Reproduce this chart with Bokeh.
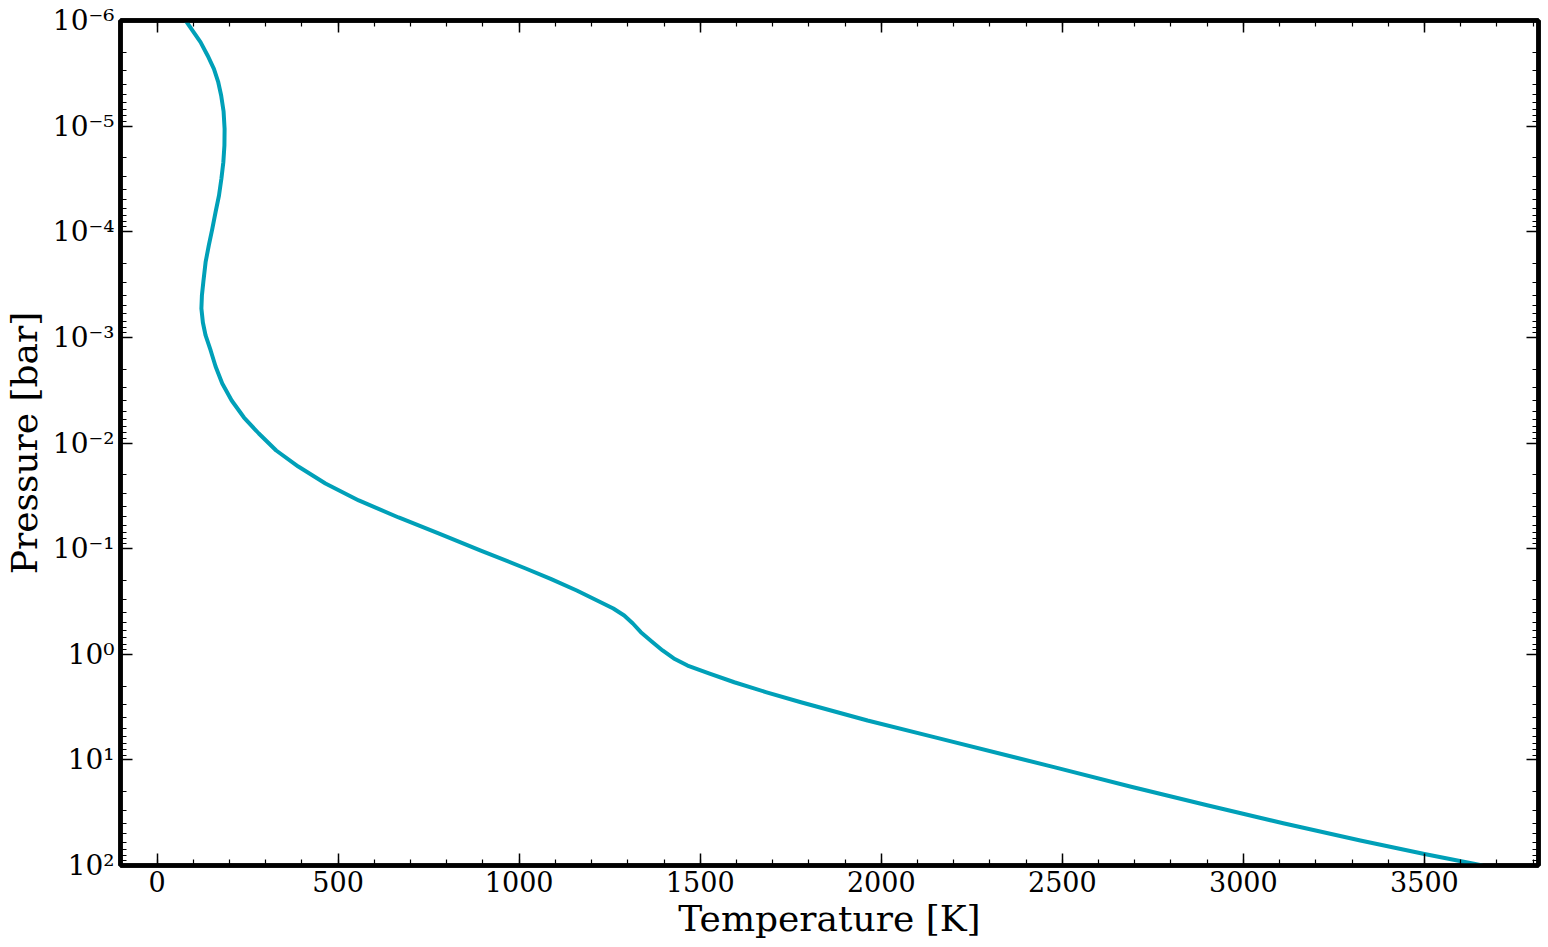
from bokeh.plotting import figure
from bokeh.models import Range1d, FixedTicker, LinearAxis, LogAxis, CustomJSTickFormatter
from bokeh.embed import file_html
from bokeh.resources import INLINE

# Temperature-pressure profile
temperature_K = [79, 98, 120, 139.5, 157, 168.5, 177, 183.7, 186.5, 186, 183,
                 177.7, 171, 161.6, 152.5, 142.8, 134, 127.9, 123.8, 122.4,
                 126.5, 134, 148, 161.6, 180, 206, 240, 281, 329, 390,
                 465, 557, 667, 779, 894, 1018, 1087, 1159, 1225, 1260,
                 1290, 1314, 1336, 1366, 1396, 1427, 1465, 1524, 1594, 1681,
                 1778, 1962, 2146, 2477, 2690, 2900, 3110, 3323, 3500, 3640,
                 3660]
log10_pressure_bar = [-6.0, -5.905, -5.795, -5.669, -5.543, -5.422, -5.290,
                      -5.138, -4.975, -4.817, -4.658, -4.504, -4.343, -4.187,
                      -4.028, -3.870, -3.712, -3.529, -3.396, -3.273, -3.141,
                      -3.018, -2.876, -2.724, -2.563, -2.402, -2.241, -2.090,
                      -1.929, -1.777, -1.617, -1.456, -1.295, -1.143, -0.982,
                      -0.812, -0.714, -0.604, -0.493, -0.433, -0.367, -0.291,
                      -0.209, -0.121, -0.036, 0.040, 0.107, 0.182, 0.265,
                      0.358, 0.454, 0.627, 0.785, 1.069, 1.254, 1.430, 1.600,
                      1.764, 1.891, 1.986, 2.0]
pressure_bar = [10.0 ** v for v in log10_pressure_bar]

x_major_ticks = [0, 500, 1000, 1500, 2000, 2500, 3000, 3500]
x_minor_ticks = list(range(-100, 3900, 100))
y_exponents = [-6, -5, -4, -3, -2, -1, 0, 1, 2]
y_major_ticks = [10.0 ** e for e in y_exponents]
y_minor_ticks = [k * 10.0 ** e for e in y_exponents[:-1] for k in range(2, 10)]

FONT = "DejaVu Serif"
LINE_COLOR = "#00a0b8"

p = figure(width=1548, height=947, output_backend="svg", toolbar_location=None,
           x_range=Range1d(-101, 3815), y_range=Range1d(100, 1e-6),
           y_axis_type="log",
           min_border_left=120, min_border_right=10, min_border_top=20,
           min_border_bottom=82)
p.background_fill_color = "white"
p.border_fill_color = "white"
p.outline_line_color = "black"
p.outline_line_width = 4.5
p.xgrid.visible = False
p.ygrid.visible = False

p.line(temperature_K, pressure_bar, line_color=LINE_COLOR, line_width=4,
       line_join="round")

xt = FixedTicker(ticks=x_major_ticks, minor_ticks=x_minor_ticks)
yt = FixedTicker(ticks=y_major_ticks, minor_ticks=y_minor_ticks)

sup_fmt = CustomJSTickFormatter(code="""
const sup = {'-':'\u207b','0':'\u2070','1':'\u00b9','2':'\u00b2','3':'\u00b3',
             '4':'\u2074','5':'\u2075','6':'\u2076','7':'\u2077','8':'\u2078','9':'\u2079'};
const e = Math.round(Math.log10(tick));
return '10' + String(e).split('').map(c => sup[c]).join('');
""")
blank_fmt = CustomJSTickFormatter(code="return '';")

xa = p.xaxis[0]
ya = p.yaxis[0]
xa.ticker = xt
ya.ticker = yt
ya.formatter = sup_fmt
xa.axis_label = "Temperature [K]"
ya.axis_label = "Pressure [bar]"

top = LinearAxis(ticker=xt, formatter=blank_fmt)
right = LogAxis(ticker=yt, formatter=blank_fmt)
p.add_layout(top, "above")
p.add_layout(right, "right")

for ax in (xa, ya, top, right):
    ax.major_tick_in = 12
    ax.major_tick_out = 0
    ax.minor_tick_in = 6
    ax.minor_tick_out = 0
    ax.major_tick_line_width = 1.5
    ax.minor_tick_line_width = 1.2
    ax.major_tick_line_color = "black"
    ax.minor_tick_line_color = "black"
    ax.axis_line_color = "black"
    ax.axis_line_width = 4.5
    ax.major_label_text_font = FONT
    ax.major_label_text_color = "black"
    ax.axis_label_text_font = FONT
    ax.axis_label_text_font_style = "normal"
    ax.axis_label_text_color = "black"

xa.major_label_text_font_size = "27px"
ya.major_label_text_font_size = "28px"
for ax in (xa, ya):
    ax.axis_label_text_font_size = "36px"

xa.major_label_standoff = 5
xa.axis_label_standoff = 3
ya.major_label_standoff = 6
ya.axis_label_standoff = 5

for ax in (top, right):
    ax.major_label_text_font_size = "0px"
    ax.major_label_standoff = 0

open("out.html", "w").write(file_html(p, INLINE))
